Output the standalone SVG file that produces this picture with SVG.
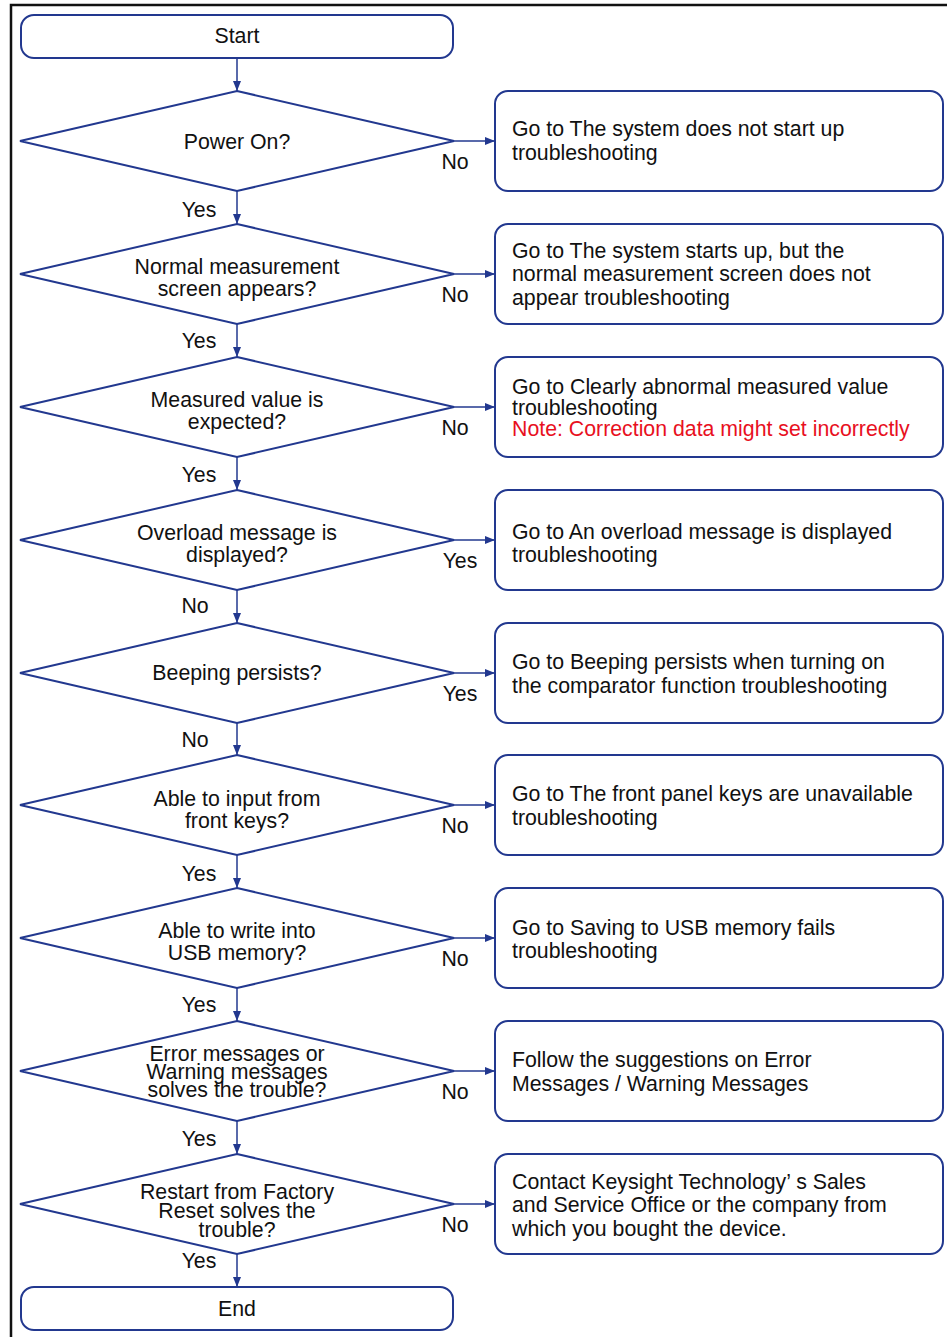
<svg xmlns="http://www.w3.org/2000/svg" width="947" height="1337" viewBox="0 0 947 1337">
<defs>
<marker id="ah" viewBox="0 0 10 8" refX="10" refY="4" markerWidth="10" markerHeight="8" markerUnits="userSpaceOnUse" orient="auto">
<path d="M0,0 L10,4 L0,8 Z" fill="#22388f"/>
</marker>
<style>
.n{fill:#fff;stroke:#22388f;stroke-width:2}
.c{fill:none;stroke:#22388f;stroke-width:1.5;marker-end:url(#ah)}
text{font-family:"Liberation Sans",Arial,sans-serif;font-size:21.3px;fill:#111}
.m{text-anchor:middle}
.r{fill:#e8101e}
</style>
</defs>
<rect width="947" height="1337" fill="#fff"/>
<path d="M11,1337 V5 H947" fill="none" stroke="#111" stroke-width="2.5"/>

<g id="connectors">
<line class="c" x1="237" y1="58" x2="237" y2="91"/>
<line class="c" x1="237" y1="191" x2="237" y2="224"/>
<line class="c" x1="237" y1="324" x2="237" y2="357"/>
<line class="c" x1="237" y1="457" x2="237" y2="490"/>
<line class="c" x1="237" y1="590" x2="237" y2="623"/>
<line class="c" x1="237" y1="723" x2="237" y2="755"/>
<line class="c" x1="237" y1="855" x2="237" y2="888"/>
<line class="c" x1="237" y1="988" x2="237" y2="1021"/>
<line class="c" x1="237" y1="1121" x2="237" y2="1154"/>
<line class="c" x1="237" y1="1254" x2="237" y2="1287"/>
<line class="c" x1="454" y1="141" x2="495" y2="141"/>
<line class="c" x1="454" y1="274" x2="495" y2="274"/>
<line class="c" x1="454" y1="407" x2="495" y2="407"/>
<line class="c" x1="454" y1="540" x2="495" y2="540"/>
<line class="c" x1="454" y1="673" x2="495" y2="673"/>
<line class="c" x1="454" y1="805" x2="495" y2="805"/>
<line class="c" x1="454" y1="938" x2="495" y2="938"/>
<line class="c" x1="454" y1="1071" x2="495" y2="1071"/>
<line class="c" x1="454" y1="1204" x2="495" y2="1204"/>
<text class="m" x="199" y="217">Yes</text>
<text class="m" x="199" y="348">Yes</text>
<text class="m" x="199" y="482">Yes</text>
<text class="m" x="195" y="613">No</text>
<text class="m" x="195" y="747">No</text>
<text class="m" x="199" y="881">Yes</text>
<text class="m" x="199" y="1012">Yes</text>
<text class="m" x="199" y="1146">Yes</text>
<text class="m" x="199" y="1268">Yes</text>
<text class="m" x="455" y="169">No</text>
<text class="m" x="455" y="302">No</text>
<text class="m" x="455" y="435">No</text>
<text class="m" x="460" y="568">Yes</text>
<text class="m" x="460" y="701">Yes</text>
<text class="m" x="455" y="833">No</text>
<text class="m" x="455" y="966">No</text>
<text class="m" x="455" y="1099">No</text>
<text class="m" x="455" y="1232">No</text>
</g>

<g id="start"><rect class="n" x="21" y="15" width="432" height="43" rx="13"/><text class="m" x="237" y="43">Start</text></g>

<g id="d1"><polygon class="n" points="237,91 454,141 237,191 20,141"/><text class="m" x="237" y="149">Power On?</text></g>
<g id="d2"><polygon class="n" points="237,224 454,274 237,324 20,274"/><text class="m" x="237" y="274">Normal measurement</text><text class="m" x="237" y="296">screen appears?</text></g>
<g id="d3"><polygon class="n" points="237,357 454,407 237,457 20,407"/><text class="m" x="237" y="407">Measured value is</text><text class="m" x="237" y="429">expected?</text></g>
<g id="d4"><polygon class="n" points="237,490 454,540 237,590 20,540"/><text class="m" x="237" y="540">Overload message is</text><text class="m" x="237" y="562">displayed?</text></g>
<g id="d5"><polygon class="n" points="237,623 454,673 237,723 20,673"/><text class="m" x="237" y="680">Beeping persists?</text></g>
<g id="d6"><polygon class="n" points="237,755 454,805 237,855 20,805"/><text class="m" x="237" y="806">Able to input from</text><text class="m" x="237" y="828">front keys?</text></g>
<g id="d7"><polygon class="n" points="237,888 454,938 237,988 20,938"/><text class="m" x="237" y="938">Able to write into</text><text class="m" x="237" y="960">USB memory?</text></g>
<g id="d8"><polygon class="n" points="237,1021 454,1071 237,1121 20,1071"/><text class="m" x="237" y="1061">Error messages or</text><text class="m" x="237" y="1079">Warning messages</text><text class="m" x="237" y="1097">solves the trouble?</text></g>
<g id="d9"><polygon class="n" points="237,1154 454,1204 237,1254 20,1204"/><text class="m" x="237" y="1199">Restart from Factory</text><text class="m" x="237" y="1218">Reset solves the</text><text class="m" x="237" y="1237">trouble?</text></g>

<g id="end"><rect class="n" x="21" y="1287" width="432" height="43" rx="13"/><text class="m" x="237" y="1316">End</text></g>

<g id="b1"><rect class="n" x="495" y="91" width="448" height="100" rx="13"/><text x="512" y="136">Go to The system does not start up</text><text x="512" y="160">troubleshooting</text></g>
<g id="b2"><rect class="n" x="495" y="224" width="448" height="100" rx="13"/><text x="512" y="258">Go to The system starts up, but the</text><text x="512" y="281">normal measurement screen does not</text><text x="512" y="305">appear troubleshooting</text></g>
<g id="b3"><rect class="n" x="495" y="357" width="448" height="100" rx="13"/><text x="512" y="394">Go to Clearly abnormal measured value</text><text x="512" y="415">troubleshooting</text><text class="r" x="512" y="436">Note: Correction data might set incorrectly</text></g>
<g id="b4"><rect class="n" x="495" y="490" width="448" height="100" rx="13"/><text x="512" y="539">Go to An overload message is displayed</text><text x="512" y="562">troubleshooting</text></g>
<g id="b5"><rect class="n" x="495" y="623" width="448" height="100" rx="13"/><text x="512" y="669">Go to Beeping persists when turning on</text><text x="512" y="693">the comparator function troubleshooting</text></g>
<g id="b6"><rect class="n" x="495" y="755" width="448" height="100" rx="13"/><text x="512" y="801">Go to The front panel keys are unavailable</text><text x="512" y="825">troubleshooting</text></g>
<g id="b7"><rect class="n" x="495" y="888" width="448" height="100" rx="13"/><text x="512" y="935">Go to Saving to USB memory fails</text><text x="512" y="958">troubleshooting</text></g>
<g id="b8"><rect class="n" x="495" y="1021" width="448" height="100" rx="13"/><text x="512" y="1067">Follow the suggestions on Error</text><text x="512" y="1091">Messages / Warning Messages</text></g>
<g id="b9"><rect class="n" x="495" y="1154" width="448" height="100" rx="13"/><text x="512" y="1189">Contact Keysight Technology’ s Sales</text><text x="512" y="1212">and Service Office or the company from</text><text x="512" y="1236">which you bought the device.</text></g>
</svg>
